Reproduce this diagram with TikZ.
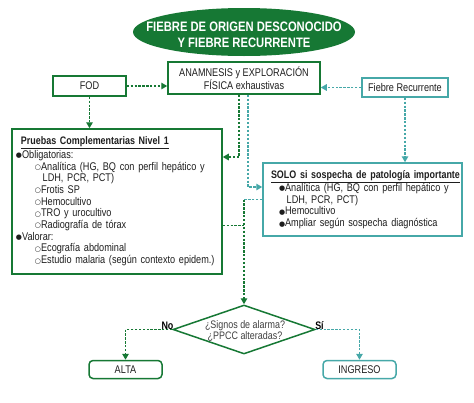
\documentclass[tikz,border=0pt]{standalone}
\usepackage{fontspec}
\setmainfont{Liberation Sans}[FakeStretch=0.82]
\newfontfamily\symf{DejaVu Sans}
\usetikzlibrary{arrows.meta,shapes.geometric}
\definecolor{fgreen}{RGB}{22,120,52}
\definecolor{fteal}{RGB}{70,168,168}
\definecolor{txt}{RGB}{30,30,30}
\newcommand\fbul{\raisebox{0.6pt}{\symf\fontsize{7}{7}\selectfont ●}}
\newcommand\obul{\raisebox{0.6pt}{\symf\fontsize{7}{7}\selectfont ○}}
\newcommand\hd[1]{\underline{\textbf{\fontsize{10.9}{11.7}\selectfont #1}}}
\begin{document}
\begin{tikzpicture}[x=1pt,y=-1pt,
  font=\fontsize{11.15}{11.7}\selectfont, text=txt,
  gbox/.style={draw=fgreen, line width=1.5pt, rectangle, inner sep=0pt},
  tbox/.style={draw=fteal, line width=1.5pt, rectangle, inner sep=0pt},
  gline/.style={draw=fgreen, line width=1.4pt, dash pattern=on 2.3pt off 1.6pt},
  tline/.style={draw=fteal, line width=1.4pt, dash pattern=on 2.3pt off 1.6pt},
  garr/.style={gline, -{Triangle[length=6pt,width=6.5pt,fill=fgreen]}},
  tarr/.style={tline, -{Triangle[length=6pt,width=6.5pt,fill=fteal]}},
  lbl/.style={font=\bfseries\fontsize{10.9}{11.7}\selectfont, text=black}]
\useasboundingbox (0,0) rectangle (474,402);

% title
\node[ellipse, fill=fgreen, minimum width=222, minimum height=48, inner sep=0pt] (title) at (244,32) {};
\node[text=white, align=center, font=\bfseries\fontsize{13.7}{15.5}\selectfont] (titletxt) at (244,35) {FIEBRE DE ORIGEN DESCONOCIDO\\Y FIEBRE RECURRENTE};

% top row
\node[gbox, minimum width=152, minimum height=32, align=center] (anam) at (244,78) {ANAMNESIS y EXPLORACIÓN\\FÍSICA exhaustivas};
\node[gbox, minimum width=73, minimum height=20] (fod) at (89.5,86) {FOD};
\node[tbox, minimum width=86, minimum height=19] (fr) at (405,87.5) {Fiebre Recurrente};

% Pruebas box
\node[gbox, minimum width=210, minimum height=145, text width=202, inner xsep=4pt, align=left] (prb) at (117,201.5) {%
\hspace*{5pt}\hd{Pruebas Complementarias Nivel 1}\\
\fbul Obligatorias:\\
\hspace*{19pt}\obul Analítica (HG, BQ con perfil hepático y\\
\hspace*{26.7pt}LDH, PCR, PCT)\\
\hspace*{19pt}\obul Frotis SP\\
\hspace*{19pt}\obul Hemocultivo\\
\hspace*{19pt}\obul TRO y urocultivo\\
\hspace*{19pt}\obul Radiografía de tórax\\
\fbul Valorar:\\
\hspace*{19pt}\obul Ecografía abdominal\\
\hspace*{19pt}\obul Estudio malaria (según contexto epidem.)};

% SOLO box
\node[tbox, minimum width=199, minimum height=73, text width=183, inner xsep=8pt, align=left] (solo) at (362.5,199.5) {%
\hd{SOLO si sospecha de patología importante}\\
\hspace*{8pt}\fbul Analítica (HG, BQ con perfil hepático y\\
\hspace*{15.7pt}LDH, PCR, PCT)\\
\hspace*{8pt}\fbul Hemocultivo\\
\hspace*{8pt}\fbul Ampliar según sospecha diagnóstica};

% decision
\node[diamond, draw=fgreen, line width=1.5pt, minimum width=142, minimum height=49, inner sep=0pt] (dia) at (244,329.5) {};
\node[align=center, font=\fontsize{10.9}{11}\selectfont, text=txt!85] (diatxt) at (245,330.5) {¿Signos de alarma?\\¿PPCC alteradas?};

\node[gbox, rounded corners=4pt, minimum width=73, minimum height=18] (alta) at (125.5,369.5) {ALTA};
\node[tbox, rounded corners=4pt, minimum width=73, minimum height=18] (ing) at (359.5,369.5) {INGRESO};

\node[lbl] (no) at (167.5,325.5) {No};
\node[lbl] (si) at (319.5,326) {Sí};

% connectors
\draw[garr] (fod.east) -- (fod.east -| anam.west);
\draw[tarr] (fr.west) -- (fr.west -| anam.east);
\draw[garr] (fod.south) -- (prb.north -| fod.south);
\draw[tarr] (fr.south) -- (solo.north -| fr.south);
\draw[garr] ([xshift=-5pt]anam.south) |- ([yshift=44.5pt]prb.east);
\draw[tarr] ([xshift=4pt]anam.south) |- ([yshift=12.5pt]solo.west);
\coordinate (j1) at (244,199.5);
\coordinate (j2) at (244,225.5);
\draw[tline] (solo.west) -- (j1);
\draw[gline] (prb.east |- j2) -- (j2);
\draw[garr] (j1) -- (dia.north);
\draw[garr] (dia.west) -| (alta.north);
\draw[tarr] (dia.east) -| (ing.north);
\end{tikzpicture}
\end{document}
